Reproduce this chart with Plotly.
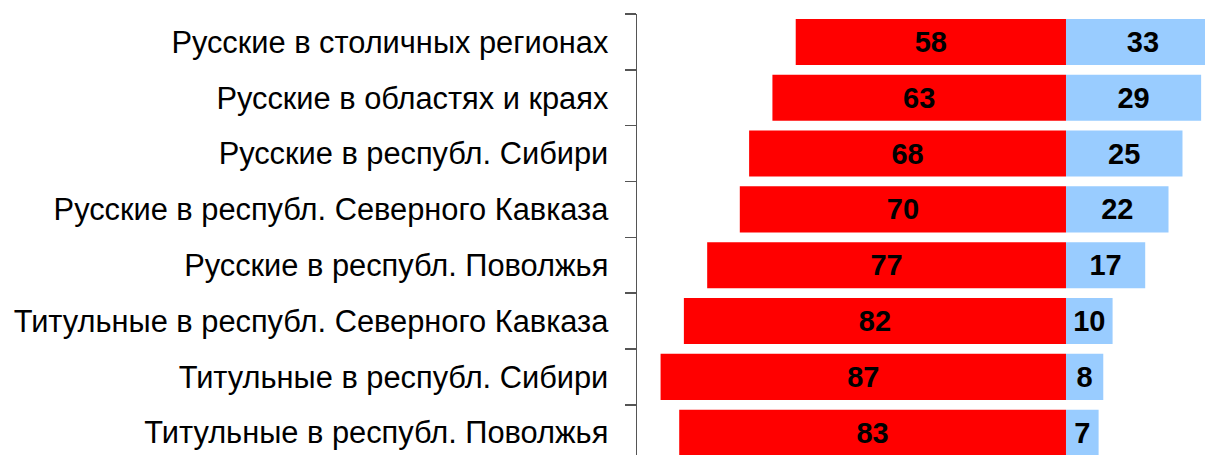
import plotly.graph_objects as go

categories = [
    "Русские в столичных регионах",
    "Русские в областях и краях",
    "Русские в республ. Сибири",
    "Русские в республ. Северного Кавказа",
    "Русские в республ. Поволжья",
    "Титульные в республ. Северного Кавказа",
    "Титульные в республ. Сибири",
    "Титульные в республ. Поволжья",
]
red_values = [58, 63, 68, 70, 77, 82, 87, 83]
blue_values = [33, 29, 25, 22, 17, 10, 8, 7]

label_font = dict(family="Liberation Sans, Arial, sans-serif", size=30.8, color="black")
value_font = dict(family="Liberation Sans, Arial, sans-serif", size=29, color="black", weight="bold")

fig = go.Figure()
fig.add_trace(go.Bar(
    y=categories, x=[-v for v in red_values], orientation="h",
    marker=dict(color="#FF0000", line=dict(width=0)),
    text=[str(v) for v in red_values], textposition="inside",
    insidetextanchor="middle", textfont=value_font, width=0.825,
    constraintext="none", showlegend=False, hoverinfo="skip",
))
fig.add_trace(go.Bar(
    y=categories, x=blue_values, orientation="h",
    marker=dict(color="#99CCFF", line=dict(width=0)),
    text=[str(v) for v in blue_values], textposition="inside",
    insidetextanchor="middle", textfont=value_font, width=0.825,
    constraintext="none", showlegend=False, hoverinfo="skip",
))

fig.update_layout(
    width=1205, height=455,
    margin=dict(l=637, r=0, t=14, b=0, pad=0),
    barmode="relative",
    plot_bgcolor="white", paper_bgcolor="white",
    uniformtext=dict(mode=False),
)
fig.update_xaxes(visible=False, range=[-92.06, 29.83], showgrid=False, zeroline=False, fixedrange=True)
fig.update_yaxes(
    type="category", categoryorder="array", categoryarray=categories,
    range=[7.4, -0.5], showline=True, linecolor="#555555", linewidth=1.5,
    ticks="outside", ticklen=11, tickcolor="#555555", tickwidth=1.5,
    tickson="boundaries", showgrid=False, zeroline=False, fixedrange=True,
    tickfont=label_font, ticklabelstandoff=21,
)

fig.write_html(
    "out.html",
    config={"displayModeBar": False, "staticPlot": True},
    post_script="document.body.style.margin='0';document.body.style.overflow='hidden';",
)
